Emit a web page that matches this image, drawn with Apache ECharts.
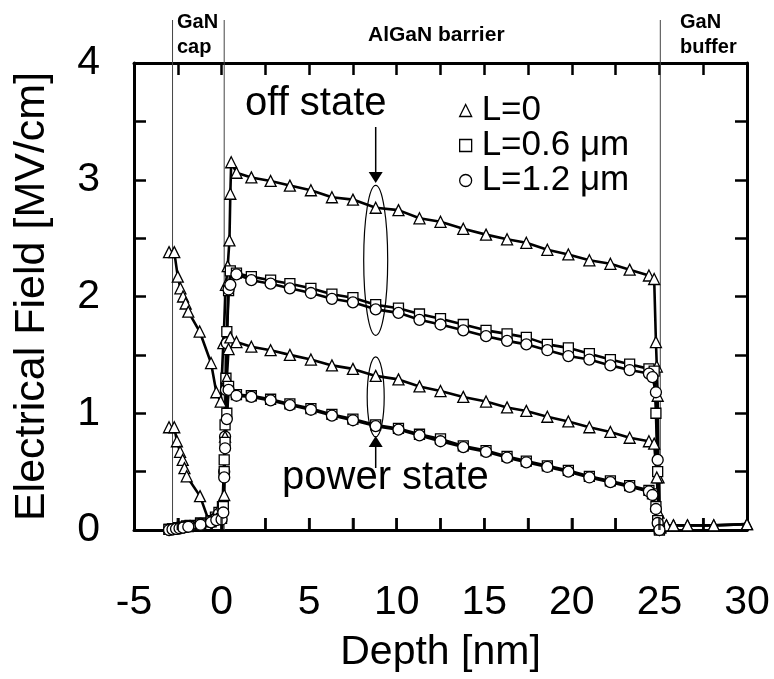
<!DOCTYPE html>
<html>
<head>
<meta charset="utf-8">
<script src="https://cdn.jsdelivr.net/npm/echarts@6/dist/echarts.min.js"></script>
<style>
    html, body { margin: 0; padding: 0; background: #fff; }
    #main { width: 774px; height: 679px; }
</style>
</head>
<body>
<div id="main"></div>
<script>
// 数据 (Depth [nm], Electrical Field [MV/cm])
var offL0 = [
    [-3.0, 2.38], [-2.7, 2.38], [-2.5, 2.17], [-2.35, 2.07], [-2.2, 2.0], [-2.05, 1.94], [-1.9, 1.87],
    [-1.25, 1.70], [-0.6, 1.43], [-0.3, 1.18], [-0.05, 1.10], [0.1, 1.6], [0.25, 2.1], [0.35, 2.26],
    [0.45, 2.48], [0.5, 2.88], [0.55, 3.15], [0.85, 3.06],
    [1.7, 3.02], [2.8, 2.99], [3.9, 2.95], [5.1, 2.91], [6.3, 2.85], [7.5, 2.83], [8.8, 2.76], [10.1, 2.74],
    [11.3, 2.67], [12.5, 2.64], [13.8, 2.58], [15.1, 2.53], [16.3, 2.49], [17.4, 2.46], [18.6, 2.40],
    [19.8, 2.36], [21.0, 2.31], [22.2, 2.28], [23.3, 2.23], [24.4, 2.18], [24.7, 2.15],
    [24.8, 1.61], [24.85, 1.40], [24.9, 1.15], [24.95, 0.45], [25.05, 0.02],
    [25.4, 0.04], [25.8, 0.04], [26.6, 0.04], [28.1, 0.04], [30.0, 0.05]
];
var offL06 = [
    [-3.0, 0.005], [-2.8, 0.01], [-2.65, 0.012], [-2.45, 0.02], [-2.25, 0.025], [-2.0, 0.035], [-1.8, 0.04],
    [-1.2, 0.06], [-0.6, 0.08], [-0.35, 0.11], [-0.15, 0.15], [0.05, 0.2], [0.15, 0.6], [0.2, 0.9],
    [0.25, 1.3], [0.3, 1.7], [0.4, 2.05], [0.5, 2.22], [0.85, 2.2],
    [1.7, 2.17], [2.8, 2.14], [3.9, 2.11], [5.1, 2.07], [6.3, 2.02], [7.5, 1.99], [8.8, 1.93], [10.1, 1.90],
    [11.3, 1.85], [12.5, 1.81], [13.8, 1.76], [15.1, 1.71], [16.3, 1.68], [17.4, 1.65], [18.6, 1.59],
    [19.8, 1.56], [21.0, 1.51], [22.2, 1.46], [23.3, 1.42], [24.4, 1.38], [24.7, 1.36],
    [24.8, 1.0], [24.9, 0.5], [25.0, 0.01]
];
var offL12 = [
    [-3.0, 0.0], [-2.8, 0.005], [-2.65, 0.01], [-2.45, 0.015], [-2.25, 0.02], [-2.0, 0.03], [-1.8, 0.035],
    [-1.2, 0.055], [-0.6, 0.075], [-0.35, 0.1], [-0.15, 0.14], [0.05, 0.18], [0.15, 0.5], [0.2, 0.8],
    [0.25, 1.2], [0.3, 1.6], [0.4, 2.06], [0.5, 2.1], [0.85, 2.19],
    [1.7, 2.14], [2.8, 2.11], [3.9, 2.07], [5.1, 2.03], [6.3, 1.98], [7.5, 1.95], [8.8, 1.89], [10.1, 1.86],
    [11.3, 1.80], [12.5, 1.76], [13.8, 1.71], [15.1, 1.66], [16.3, 1.62], [17.4, 1.59], [18.6, 1.54],
    [19.8, 1.49], [21.0, 1.46], [22.2, 1.41], [23.3, 1.37], [24.4, 1.34], [24.6, 1.31],
    [24.8, 1.18], [24.9, 0.6], [25.0, 0.0]
];
var powerL0 = [
    [-3.0, 0.88], [-2.7, 0.88], [-2.55, 0.76], [-2.37, 0.67], [-2.22, 0.60], [-2.12, 0.53], [-1.99, 0.46],
    [-1.23, 0.29], [-0.4, -0.06], [0.0, -0.1], [0.15, 0.3], [0.2, 0.8], [0.3, 1.3], [0.4, 1.55],
    [0.5, 1.65], [0.85, 1.61],
    [1.7, 1.57], [2.8, 1.54], [3.9, 1.50], [5.1, 1.46], [6.3, 1.41], [7.5, 1.38], [8.8, 1.32], [10.1, 1.29],
    [11.3, 1.23], [12.5, 1.19], [13.8, 1.14], [15.1, 1.10], [16.3, 1.05], [17.4, 1.02], [18.6, 0.97],
    [19.8, 0.93], [21.0, 0.88], [22.2, 0.84], [23.3, 0.79], [24.4, 0.76], [24.7, 0.74],
    [24.85, 0.45], [24.95, 0.15], [25.05, 0.03],
    [25.4, 0.04], [25.8, 0.04], [26.6, 0.04], [28.1, 0.04], [30.0, 0.05]
];
var powerL06 = [
    [-3.0, 0.005], [-2.8, 0.01], [-2.6, 0.012], [-2.4, 0.018], [-2.2, 0.022], [-1.9, 0.03], [-1.2, 0.05],
    [-0.6, 0.07], [-0.3, 0.09], [0.0, 0.1], [0.1, 0.2], [0.15, 0.5], [0.2, 0.75], [0.3, 1.0],
    [0.4, 1.23], [0.85, 1.16],
    [1.7, 1.15], [2.8, 1.12], [3.9, 1.08], [5.1, 1.04], [6.3, 0.99], [7.5, 0.95], [8.8, 0.90], [10.1, 0.87],
    [11.3, 0.82], [12.5, 0.78], [13.8, 0.72], [15.1, 0.68], [16.3, 0.63], [17.4, 0.59], [18.6, 0.55],
    [19.8, 0.51], [21.0, 0.46], [22.2, 0.42], [23.3, 0.38], [24.4, 0.34], [24.6, 0.31],
    [24.8, 0.2], [24.9, 0.08], [25.0, 0.0]
];
var powerL12 = [
    [-3.0, 0.0], [-2.8, 0.005], [-2.6, 0.01], [-2.4, 0.015], [-2.2, 0.02], [-1.9, 0.028], [-1.2, 0.045],
    [-0.6, 0.065], [-0.3, 0.085], [0.0, 0.09], [0.1, 0.15], [0.15, 0.45], [0.2, 0.7], [0.3, 0.95],
    [0.4, 1.2], [0.85, 1.15],
    [1.7, 1.14], [2.8, 1.11], [3.9, 1.07], [5.1, 1.03], [6.3, 0.98], [7.5, 0.94], [8.8, 0.89], [10.1, 0.86],
    [11.3, 0.81], [12.5, 0.76], [13.8, 0.71], [15.1, 0.67], [16.3, 0.62], [17.4, 0.58], [18.6, 0.54],
    [19.8, 0.50], [21.0, 0.45], [22.2, 0.41], [23.3, 0.37], [24.4, 0.33], [24.6, 0.30],
    [24.8, 0.18], [24.9, 0.06], [25.0, 0.0]
];
var legendNames = ['L=0', 'L=0.6 μm', 'L=1.2 μm'];
var layerBounds = [-2.8, 0.15, 25.05];
// 底边刻度位置 (nm)
var xTickValues = [-2.5, 0, 2.5, 5, 7.5, 10, 12.5, 15, 17.5, 20, 22.5, 25, 27.5];

var font = 'Liberation Sans, Arial, sans-serif';

function makeSeries(name, data, symbol, size) {
    return {
        name: name,
        type: 'line',
        data: data,
        symbol: symbol,
        symbolSize: size,
        showSymbol: true,
        showAllSymbol: true,
        animation: false,
        clip: true,
        lineStyle: { color: '#000', width: 2.6 },
        itemStyle: { color: '#fff', borderColor: '#000', borderWidth: 1.3 }
    };
}

// 框线刻度 (朝内)
var tickStyle = { show: true, inside: true, length: 12, lineStyle: { color: '#000', width: 2.5 } };
var frameLine = { show: true, onZero: false, lineStyle: { color: '#000', width: 3 } };

var myChart = echarts.init(document.getElementById('main'));
var option = {
    backgroundColor: '#fff',
    animation: false,
    textStyle: { fontFamily: font },
    grid: { left: 134, right: 27, top: 63, bottom: 149 },
    legend: {
        data: [
            { name: legendNames[0], icon: 'triangle' },
            { name: legendNames[1], icon: 'rect' },
            { name: legendNames[2], icon: 'circle' }
        ],
        orient: 'vertical',
        left: 454,
        top: 88,
        itemWidth: 12,
        itemHeight: 12,
        itemGap: 0,
        selectedMode: false,
        itemStyle: { color: '#fff', borderColor: '#000', borderWidth: 1.3 },
        textStyle: { fontSize: 35, color: '#000', fontFamily: font, lineHeight: 34, padding: [0, 0, 0, 5] }
    },
    xAxis: [{
        type: 'value', min: -5, max: 30, interval: 2.5, position: 'bottom',
        name: 'Depth [nm]', nameLocation: 'middle', nameGap: 102,
        nameTextStyle: { fontSize: 41, color: '#000', fontFamily: font },
        axisLine: frameLine,
        axisTick: tickStyle,
        axisLabel: {
            fontSize: 41, color: '#000', margin: 52, fontFamily: font,
            formatter: function (v) { return v % 5 === 0 ? String(v) : ''; }
        },
        splitLine: { show: false }
    }, {
        type: 'value', min: -5, max: 30, interval: 2.5, position: 'top',
        axisLine: frameLine, axisTick: tickStyle,
        axisLabel: { show: false },
        splitLine: { show: false }
    }],
    yAxis: [{
        type: 'value', min: 0, max: 4, interval: 0.5,
        name: 'Electrical Field [MV/cm]', nameLocation: 'middle', nameGap: 80,
        nameTextStyle: { fontSize: 43, color: '#000', fontFamily: font },
        axisLine: frameLine,
        axisTick: tickStyle,
        axisLabel: {
            fontSize: 41, color: '#000', margin: 34, fontFamily: font,
            formatter: function (v) { return v % 1 === 0 ? String(v) : ''; }
        },
        splitLine: { show: false }
    }, {
        type: 'value', min: 0, max: 4, interval: 0.5, position: 'right',
        axisLine: frameLine, axisTick: tickStyle,
        axisLabel: { show: false },
        splitLine: { show: false }
    }],
    series: [
        makeSeries(legendNames[0], offL0, 'triangle', 11),
        makeSeries(legendNames[1], offL06, 'rect', 10),
        makeSeries(legendNames[2], offL12, 'circle', 11),
        makeSeries(legendNames[0], powerL0, 'triangle', 11),
        makeSeries(legendNames[1], powerL06, 'rect', 10),
        makeSeries(legendNames[2], powerL12, 'circle', 11),
        {
            // 底边朝内刻度
            type: 'scatter',
            silent: true,
            clip: false,
            z: 10,
            data: xTickValues.map(function (t) { return [t, 0]; }),
            symbol: 'rect',
            symbolSize: [2.5, 12],
            symbolOffset: [0, -6],
            itemStyle: { color: '#000' }
        }
    ]
};
myChart.setOption(option);

// 层边界线、椭圆、箭头和文字
var bottomY = myChart.convertToPixel({ yAxisIndex: 0 }, 0);
var elements = [];
layerBounds.forEach(function (b) {
    var px = myChart.convertToPixel({ xAxisIndex: 0 }, b);
    elements.push({
        type: 'line', z: 1,
        shape: { x1: px, y1: 20, x2: px, y2: bottomY },
        style: { stroke: '#444', lineWidth: 1 }
    });
});

var offC = myChart.convertToPixel({ xAxisIndex: 0, yAxisIndex: 0 }, [8.8, 2.31]);
var powC = myChart.convertToPixel({ xAxisIndex: 0, yAxisIndex: 0 }, [8.8, 1.14]);
elements.push(
    { type: 'ellipse', z: 200, shape: { cx: offC[0], cy: offC[1], rx: 12, ry: 75 },
      style: { fill: null, stroke: '#000', lineWidth: 1.2 } },
    { type: 'ellipse', z: 200, shape: { cx: powC[0], cy: powC[1], rx: 8.5, ry: 40 },
      style: { fill: null, stroke: '#000', lineWidth: 1.2 } },
    // off state arrow
    { type: 'line', z: 200, shape: { x1: offC[0], y1: 127, x2: offC[0], y2: 173 },
      style: { stroke: '#000', lineWidth: 1.5 } },
    { type: 'polygon', z: 200, shape: { points: [[offC[0] - 7, 172], [offC[0] + 7, 172], [offC[0], 183]] },
      style: { fill: '#000' } },
    // power state arrow
    { type: 'line', z: 200, shape: { x1: powC[0], y1: 468, x2: powC[0], y2: 446 },
      style: { stroke: '#000', lineWidth: 1.5 } },
    { type: 'polygon', z: 200, shape: { points: [[powC[0] - 7, 447], [powC[0] + 7, 447], [powC[0], 436]] },
      style: { fill: '#000' } },
    { type: 'text', z: 200, left: 245, top: 84,
      style: { text: 'off state', fontSize: 40, fontFamily: font, fill: '#000' } },
    { type: 'text', z: 200, left: 282, top: 458,
      style: { text: 'power state', fontSize: 40, fontFamily: font, fill: '#000' } },
    { type: 'text', left: 177, top: 10,
      style: { text: 'GaN\ncap', fontSize: 20, fontWeight: 'bold', fontFamily: font, fill: '#000', lineHeight: 25 } },
    { type: 'text', left: 368, top: 25,
      style: { text: 'AlGaN barrier', fontSize: 21, fontWeight: 'bold', fontFamily: font, fill: '#000' } },
    { type: 'text', left: 680, top: 10,
      style: { text: 'GaN\nbuffer', fontSize: 20, fontWeight: 'bold', fontFamily: font, fill: '#000', lineHeight: 25 } }
);
myChart.setOption({ graphic: elements });
</script>
</body>
</html>
